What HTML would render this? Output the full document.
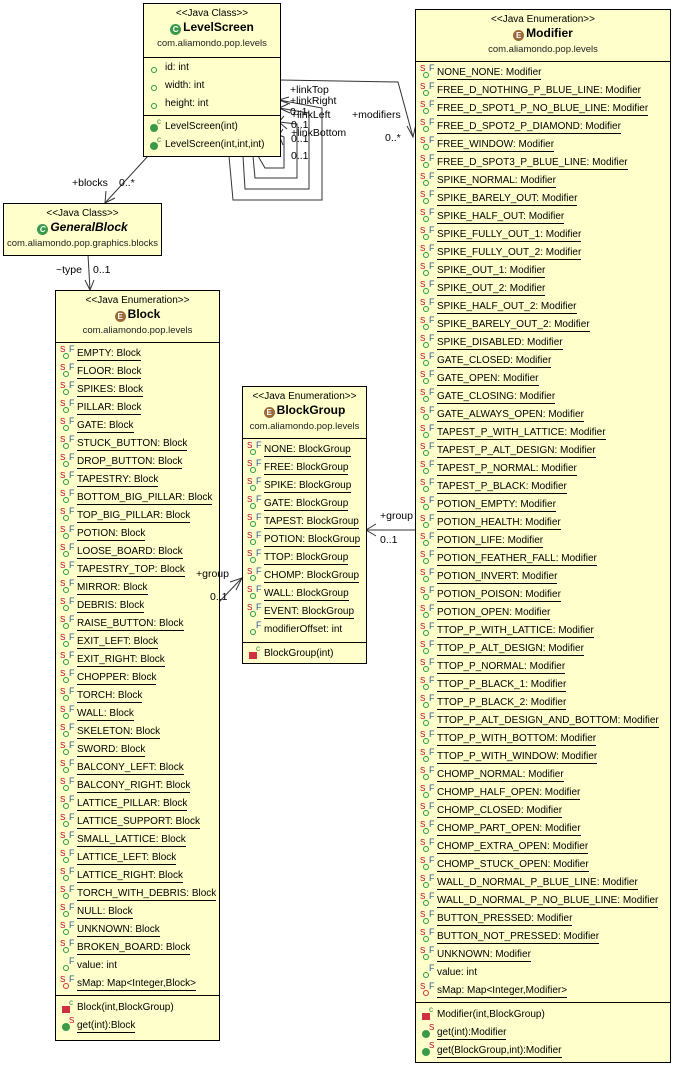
<!DOCTYPE html>
<html><head><meta charset="utf-8">
<style>
html,body{margin:0;padding:0;background:#fff;}
body{width:673px;height:1065px;position:relative;overflow:hidden;font-family:"Liberation Sans","DejaVu Sans",sans-serif;font-size:11px;color:#000;}
.box{position:absolute;background:#ffffcc;border:1px solid #000;box-sizing:border-box;}
.hd{position:absolute;left:0;right:0;top:0;border-bottom:1px solid #000;text-align:center;}
.st{position:absolute;left:0;right:0;top:4px;font-size:10px;line-height:12px;}
.nm{position:absolute;left:0;right:0;top:16px;font-size:12px;font-weight:bold;line-height:15px;}
.pk{position:absolute;left:0;right:0;top:34px;font-size:9.5px;line-height:12px;color:#222;}
.ei{display:inline-block;width:11px;height:11px;border-radius:50%;background:#9a6a3a;color:#fff;font-size:8px;line-height:11px;text-align:center;vertical-align:-1px;margin-right:2px;}
.ci{background:#3a9a4a;}
.rows{position:absolute;left:4px;right:0;}
.r{height:18px;line-height:18px;white-space:nowrap;font-size:10px;}
.ic{display:inline-block;position:relative;width:17px;height:14px;vertical-align:top;}
.ic .s{position:absolute;left:0;top:-4px;font-size:8px;color:#c00030;font-style:normal;}
.ic .f{position:absolute;left:9px;top:-5px;font-size:9px;color:#2a5a9a;font-style:normal;}
.ic .c{position:absolute;left:3px;top:8px;width:4px;height:4px;border:1.3px solid #2a9a40;border-radius:50%;}
.ic .g{position:absolute;left:2px;top:6px;width:8px;height:8px;background:#3a9a4a;border-radius:50%;}
.ic .m{position:absolute;left:2px;top:7px;width:8px;height:7px;background:#d03040;}
.ic .c2{position:absolute;left:9px;top:-5px;font-size:8px;color:#2a8a3a;font-style:normal;}
.u span{border-bottom:1px solid #000;line-height:13px;display:inline-block;}
.sep{position:absolute;left:0;right:0;border-top:1px solid #000;}
.lb{position:absolute;font-size:10.5px;line-height:12px;white-space:nowrap;z-index:5;}
svg{position:absolute;left:0;top:0;}
</style></head><body>

<svg width="673" height="1065" viewBox="0 0 673 1065">
<g fill="none" stroke="#333" stroke-width="1">
<polyline points="280,80 398,82 413,137"/>
<polyline points="407,126 413,137 416,124"/>
<polyline points="258,156 265,168 284,168 284,137 279,135"/>
<polyline points="253,156 255,178 297,178 297,124 279,122"/>
<polyline points="243,156 245,189 309,189 309,113 279,108"/>
<polyline points="229,156 233,200 322,200 322,108 279,100"/>
<polyline points="290,104 279,100 289,97"/>
<polyline points="290,113 279,108 288,104"/>
<polyline points="287,129 279,122 284,116"/>
<polyline points="283,145 279,135 283,129"/>
<polyline points="148,156 105,203"/>
<polyline points="106,191 105,203 115,198"/>
<polyline points="88,255 90,290"/>
<polyline points="85,280 90,290 94,280"/>
<polyline points="219,602 242,578"/>
<polyline points="230,582 242,578 236,590"/>
<polyline points="415,530 366,530"/>
<polyline points="376,524 366,530 376,536"/>
</g>
</svg>
<div class="lb" style="left:290px;top:84px">+linkTop</div>
<div class="lb" style="left:290px;top:95px">+linkRight</div>
<div class="lb" style="left:290px;top:106px">0..1</div>
<div class="lb" style="left:291px;top:109px">+linkLeft</div>
<div class="lb" style="left:291px;top:119px">0..1</div>
<div class="lb" style="left:291px;top:127px">+linkBottom</div>
<div class="lb" style="left:291px;top:133px">0..1</div>
<div class="lb" style="left:291px;top:150px">0..1</div>
<div class="lb" style="left:352px;top:109px">+modifiers</div>
<div class="lb" style="left:385px;top:132px">0..*</div>
<div class="lb" style="left:72px;top:177px">+blocks</div>
<div class="lb" style="left:119px;top:177px">0..*</div>
<div class="lb" style="left:56px;top:264px">~type</div>
<div class="lb" style="left:93px;top:264px">0..1</div>
<div class="lb" style="left:196px;top:568px">+group</div>
<div class="lb" style="left:210px;top:591px">0..1</div>
<div class="lb" style="left:380px;top:510px">+group</div>
<div class="lb" style="left:380px;top:534px">0..1</div>

<!-- LevelScreen -->
<div class="box" style="left:143px;top:3px;width:138px;height:154px">
 <div class="hd" style="height:53px"><div class="st">&lt;&lt;Java Class&gt;&gt;</div><div class="nm"><span class="ei ci">C</span>LevelScreen</div><div class="pk">com.aliamondo.pop.levels</div></div>
 <div class="rows" style="top:55px">
  <div class="r"><i class="ic"><i class="c"></i></i>id: int</div>
  <div class="r"><i class="ic"><i class="c"></i></i>width: int</div>
  <div class="r"><i class="ic"><i class="c"></i></i>height: int</div>
 </div>
 <div class="sep" style="top:111px"></div>
 <div class="rows" style="top:114px">
  <div class="r"><i class="ic"><i class="g"></i><i class="c2">c</i></i>LevelScreen(int)</div>
  <div class="r"><i class="ic"><i class="g"></i><i class="c2">c</i></i>LevelScreen(int,int,int)</div>
 </div>
</div>

<!-- GeneralBlock -->
<div class="box" style="left:3px;top:203px;width:159px;height:53px">
 <div class="hd" style="height:51px;border:none"><div class="st">&lt;&lt;Java Class&gt;&gt;</div><div class="nm" style="font-style:italic"><span class="ei ci">C</span>GeneralBlock</div><div class="pk">com.aliamondo.pop.graphics.blocks</div></div>
</div>

<!-- Block -->
<div class="box" style="left:55px;top:290px;width:165px;height:751px">
 <div class="hd" style="height:51px"><div class="st">&lt;&lt;Java Enumeration&gt;&gt;</div><div class="nm"><span class="ei">E</span>Block</div><div class="pk">com.aliamondo.pop.levels</div></div>
 <div class="rows" style="top:54px">
<div class="r u"><i class="ic"><i class="s">S</i><i class="c"></i><i class="f">F</i></i><span>EMPTY: Block</span></div>
<div class="r u"><i class="ic"><i class="s">S</i><i class="c"></i><i class="f">F</i></i><span>FLOOR: Block</span></div>
<div class="r u"><i class="ic"><i class="s">S</i><i class="c"></i><i class="f">F</i></i><span>SPIKES: Block</span></div>
<div class="r u"><i class="ic"><i class="s">S</i><i class="c"></i><i class="f">F</i></i><span>PILLAR: Block</span></div>
<div class="r u"><i class="ic"><i class="s">S</i><i class="c"></i><i class="f">F</i></i><span>GATE: Block</span></div>
<div class="r u"><i class="ic"><i class="s">S</i><i class="c"></i><i class="f">F</i></i><span>STUCK_BUTTON: Block</span></div>
<div class="r u"><i class="ic"><i class="s">S</i><i class="c"></i><i class="f">F</i></i><span>DROP_BUTTON: Block</span></div>
<div class="r u"><i class="ic"><i class="s">S</i><i class="c"></i><i class="f">F</i></i><span>TAPESTRY: Block</span></div>
<div class="r u"><i class="ic"><i class="s">S</i><i class="c"></i><i class="f">F</i></i><span>BOTTOM_BIG_PILLAR: Block</span></div>
<div class="r u"><i class="ic"><i class="s">S</i><i class="c"></i><i class="f">F</i></i><span>TOP_BIG_PILLAR: Block</span></div>
<div class="r u"><i class="ic"><i class="s">S</i><i class="c"></i><i class="f">F</i></i><span>POTION: Block</span></div>
<div class="r u"><i class="ic"><i class="s">S</i><i class="c"></i><i class="f">F</i></i><span>LOOSE_BOARD: Block</span></div>
<div class="r u"><i class="ic"><i class="s">S</i><i class="c"></i><i class="f">F</i></i><span>TAPESTRY_TOP: Block</span></div>
<div class="r u"><i class="ic"><i class="s">S</i><i class="c"></i><i class="f">F</i></i><span>MIRROR: Block</span></div>
<div class="r u"><i class="ic"><i class="s">S</i><i class="c"></i><i class="f">F</i></i><span>DEBRIS: Block</span></div>
<div class="r u"><i class="ic"><i class="s">S</i><i class="c"></i><i class="f">F</i></i><span>RAISE_BUTTON: Block</span></div>
<div class="r u"><i class="ic"><i class="s">S</i><i class="c"></i><i class="f">F</i></i><span>EXIT_LEFT: Block</span></div>
<div class="r u"><i class="ic"><i class="s">S</i><i class="c"></i><i class="f">F</i></i><span>EXIT_RIGHT: Block</span></div>
<div class="r u"><i class="ic"><i class="s">S</i><i class="c"></i><i class="f">F</i></i><span>CHOPPER: Block</span></div>
<div class="r u"><i class="ic"><i class="s">S</i><i class="c"></i><i class="f">F</i></i><span>TORCH: Block</span></div>
<div class="r u"><i class="ic"><i class="s">S</i><i class="c"></i><i class="f">F</i></i><span>WALL: Block</span></div>
<div class="r u"><i class="ic"><i class="s">S</i><i class="c"></i><i class="f">F</i></i><span>SKELETON: Block</span></div>
<div class="r u"><i class="ic"><i class="s">S</i><i class="c"></i><i class="f">F</i></i><span>SWORD: Block</span></div>
<div class="r u"><i class="ic"><i class="s">S</i><i class="c"></i><i class="f">F</i></i><span>BALCONY_LEFT: Block</span></div>
<div class="r u"><i class="ic"><i class="s">S</i><i class="c"></i><i class="f">F</i></i><span>BALCONY_RIGHT: Block</span></div>
<div class="r u"><i class="ic"><i class="s">S</i><i class="c"></i><i class="f">F</i></i><span>LATTICE_PILLAR: Block</span></div>
<div class="r u"><i class="ic"><i class="s">S</i><i class="c"></i><i class="f">F</i></i><span>LATTICE_SUPPORT: Block</span></div>
<div class="r u"><i class="ic"><i class="s">S</i><i class="c"></i><i class="f">F</i></i><span>SMALL_LATTICE: Block</span></div>
<div class="r u"><i class="ic"><i class="s">S</i><i class="c"></i><i class="f">F</i></i><span>LATTICE_LEFT: Block</span></div>
<div class="r u"><i class="ic"><i class="s">S</i><i class="c"></i><i class="f">F</i></i><span>LATTICE_RIGHT: Block</span></div>
<div class="r u"><i class="ic"><i class="s">S</i><i class="c"></i><i class="f">F</i></i><span>TORCH_WITH_DEBRIS: Block</span></div>
<div class="r u"><i class="ic"><i class="s">S</i><i class="c"></i><i class="f">F</i></i><span>NULL: Block</span></div>
<div class="r u"><i class="ic"><i class="s">S</i><i class="c"></i><i class="f">F</i></i><span>UNKNOWN: Block</span></div>
<div class="r u"><i class="ic"><i class="s">S</i><i class="c"></i><i class="f">F</i></i><span>BROKEN_BOARD: Block</span></div>
<div class="r"><i class="ic"><i class="c"></i><i class="f">F</i></i>value: int</div>
<div class="r u"><i class="ic"><i class="s">S</i><i class="c" style="border-color:#d03040"></i><i class="f">F</i></i><span>sMap: Map&lt;Integer,Block&gt;</span></div>
 </div>
 <div class="sep" style="top:704px"></div>
 <div class="rows" style="top:708px">
  <div class="r"><i class="ic"><i class="m"></i><i class="c2">c</i></i>Block(int,BlockGroup)</div>
  <div class="r u"><i class="ic"><i class="g"></i><i class="c2" style="color:#c00030">S</i></i><span>get(int):Block</span></div>
 </div>
</div>

<!-- BlockGroup -->
<div class="box" style="left:242px;top:386px;width:125px;height:278px">
 <div class="hd" style="height:51px"><div class="st">&lt;&lt;Java Enumeration&gt;&gt;</div><div class="nm"><span class="ei">E</span>BlockGroup</div><div class="pk">com.aliamondo.pop.levels</div></div>
 <div class="rows" style="top:54px">
<div class="r u"><i class="ic"><i class="s">S</i><i class="c"></i><i class="f">F</i></i><span>NONE: BlockGroup</span></div>
<div class="r u"><i class="ic"><i class="s">S</i><i class="c"></i><i class="f">F</i></i><span>FREE: BlockGroup</span></div>
<div class="r u"><i class="ic"><i class="s">S</i><i class="c"></i><i class="f">F</i></i><span>SPIKE: BlockGroup</span></div>
<div class="r u"><i class="ic"><i class="s">S</i><i class="c"></i><i class="f">F</i></i><span>GATE: BlockGroup</span></div>
<div class="r u"><i class="ic"><i class="s">S</i><i class="c"></i><i class="f">F</i></i><span>TAPEST: BlockGroup</span></div>
<div class="r u"><i class="ic"><i class="s">S</i><i class="c"></i><i class="f">F</i></i><span>POTION: BlockGroup</span></div>
<div class="r u"><i class="ic"><i class="s">S</i><i class="c"></i><i class="f">F</i></i><span>TTOP: BlockGroup</span></div>
<div class="r u"><i class="ic"><i class="s">S</i><i class="c"></i><i class="f">F</i></i><span>CHOMP: BlockGroup</span></div>
<div class="r u"><i class="ic"><i class="s">S</i><i class="c"></i><i class="f">F</i></i><span>WALL: BlockGroup</span></div>
<div class="r u"><i class="ic"><i class="s">S</i><i class="c"></i><i class="f">F</i></i><span>EVENT: BlockGroup</span></div>
<div class="r"><i class="ic"><i class="c"></i><i class="f">F</i></i>modifierOffset: int</div>
 </div>
 <div class="sep" style="top:255px"></div>
 <div class="rows" style="top:258px">
  <div class="r"><i class="ic"><i class="m"></i><i class="c2">c</i></i>BlockGroup(int)</div>
 </div>
</div>

<!-- Modifier -->
<div class="box" style="left:415px;top:9px;width:256px;height:1054px">
 <div class="hd" style="height:51px"><div class="st">&lt;&lt;Java Enumeration&gt;&gt;</div><div class="nm"><span class="ei">E</span>Modifier</div><div class="pk">com.aliamondo.pop.levels</div></div>
 <div class="rows" style="top:54px">
<div class="r u"><i class="ic"><i class="s">S</i><i class="c"></i><i class="f">F</i></i><span>NONE_NONE: Modifier</span></div>
<div class="r u"><i class="ic"><i class="s">S</i><i class="c"></i><i class="f">F</i></i><span>FREE_D_NOTHING_P_BLUE_LINE: Modifier</span></div>
<div class="r u"><i class="ic"><i class="s">S</i><i class="c"></i><i class="f">F</i></i><span>FREE_D_SPOT1_P_NO_BLUE_LINE: Modifier</span></div>
<div class="r u"><i class="ic"><i class="s">S</i><i class="c"></i><i class="f">F</i></i><span>FREE_D_SPOT2_P_DIAMOND: Modifier</span></div>
<div class="r u"><i class="ic"><i class="s">S</i><i class="c"></i><i class="f">F</i></i><span>FREE_WINDOW: Modifier</span></div>
<div class="r u"><i class="ic"><i class="s">S</i><i class="c"></i><i class="f">F</i></i><span>FREE_D_SPOT3_P_BLUE_LINE: Modifier</span></div>
<div class="r u"><i class="ic"><i class="s">S</i><i class="c"></i><i class="f">F</i></i><span>SPIKE_NORMAL: Modifier</span></div>
<div class="r u"><i class="ic"><i class="s">S</i><i class="c"></i><i class="f">F</i></i><span>SPIKE_BARELY_OUT: Modifier</span></div>
<div class="r u"><i class="ic"><i class="s">S</i><i class="c"></i><i class="f">F</i></i><span>SPIKE_HALF_OUT: Modifier</span></div>
<div class="r u"><i class="ic"><i class="s">S</i><i class="c"></i><i class="f">F</i></i><span>SPIKE_FULLY_OUT_1: Modifier</span></div>
<div class="r u"><i class="ic"><i class="s">S</i><i class="c"></i><i class="f">F</i></i><span>SPIKE_FULLY_OUT_2: Modifier</span></div>
<div class="r u"><i class="ic"><i class="s">S</i><i class="c"></i><i class="f">F</i></i><span>SPIKE_OUT_1: Modifier</span></div>
<div class="r u"><i class="ic"><i class="s">S</i><i class="c"></i><i class="f">F</i></i><span>SPIKE_OUT_2: Modifier</span></div>
<div class="r u"><i class="ic"><i class="s">S</i><i class="c"></i><i class="f">F</i></i><span>SPIKE_HALF_OUT_2: Modifier</span></div>
<div class="r u"><i class="ic"><i class="s">S</i><i class="c"></i><i class="f">F</i></i><span>SPIKE_BARELY_OUT_2: Modifier</span></div>
<div class="r u"><i class="ic"><i class="s">S</i><i class="c"></i><i class="f">F</i></i><span>SPIKE_DISABLED: Modifier</span></div>
<div class="r u"><i class="ic"><i class="s">S</i><i class="c"></i><i class="f">F</i></i><span>GATE_CLOSED: Modifier</span></div>
<div class="r u"><i class="ic"><i class="s">S</i><i class="c"></i><i class="f">F</i></i><span>GATE_OPEN: Modifier</span></div>
<div class="r u"><i class="ic"><i class="s">S</i><i class="c"></i><i class="f">F</i></i><span>GATE_CLOSING: Modifier</span></div>
<div class="r u"><i class="ic"><i class="s">S</i><i class="c"></i><i class="f">F</i></i><span>GATE_ALWAYS_OPEN: Modifier</span></div>
<div class="r u"><i class="ic"><i class="s">S</i><i class="c"></i><i class="f">F</i></i><span>TAPEST_P_WITH_LATTICE: Modifier</span></div>
<div class="r u"><i class="ic"><i class="s">S</i><i class="c"></i><i class="f">F</i></i><span>TAPEST_P_ALT_DESIGN: Modifier</span></div>
<div class="r u"><i class="ic"><i class="s">S</i><i class="c"></i><i class="f">F</i></i><span>TAPEST_P_NORMAL: Modifier</span></div>
<div class="r u"><i class="ic"><i class="s">S</i><i class="c"></i><i class="f">F</i></i><span>TAPEST_P_BLACK: Modifier</span></div>
<div class="r u"><i class="ic"><i class="s">S</i><i class="c"></i><i class="f">F</i></i><span>POTION_EMPTY: Modifier</span></div>
<div class="r u"><i class="ic"><i class="s">S</i><i class="c"></i><i class="f">F</i></i><span>POTION_HEALTH: Modifier</span></div>
<div class="r u"><i class="ic"><i class="s">S</i><i class="c"></i><i class="f">F</i></i><span>POTION_LIFE: Modifier</span></div>
<div class="r u"><i class="ic"><i class="s">S</i><i class="c"></i><i class="f">F</i></i><span>POTION_FEATHER_FALL: Modifier</span></div>
<div class="r u"><i class="ic"><i class="s">S</i><i class="c"></i><i class="f">F</i></i><span>POTION_INVERT: Modifier</span></div>
<div class="r u"><i class="ic"><i class="s">S</i><i class="c"></i><i class="f">F</i></i><span>POTION_POISON: Modifier</span></div>
<div class="r u"><i class="ic"><i class="s">S</i><i class="c"></i><i class="f">F</i></i><span>POTION_OPEN: Modifier</span></div>
<div class="r u"><i class="ic"><i class="s">S</i><i class="c"></i><i class="f">F</i></i><span>TTOP_P_WITH_LATTICE: Modifier</span></div>
<div class="r u"><i class="ic"><i class="s">S</i><i class="c"></i><i class="f">F</i></i><span>TTOP_P_ALT_DESIGN: Modifier</span></div>
<div class="r u"><i class="ic"><i class="s">S</i><i class="c"></i><i class="f">F</i></i><span>TTOP_P_NORMAL: Modifier</span></div>
<div class="r u"><i class="ic"><i class="s">S</i><i class="c"></i><i class="f">F</i></i><span>TTOP_P_BLACK_1: Modifier</span></div>
<div class="r u"><i class="ic"><i class="s">S</i><i class="c"></i><i class="f">F</i></i><span>TTOP_P_BLACK_2: Modifier</span></div>
<div class="r u"><i class="ic"><i class="s">S</i><i class="c"></i><i class="f">F</i></i><span>TTOP_P_ALT_DESIGN_AND_BOTTOM: Modifier</span></div>
<div class="r u"><i class="ic"><i class="s">S</i><i class="c"></i><i class="f">F</i></i><span>TTOP_P_WITH_BOTTOM: Modifier</span></div>
<div class="r u"><i class="ic"><i class="s">S</i><i class="c"></i><i class="f">F</i></i><span>TTOP_P_WITH_WINDOW: Modifier</span></div>
<div class="r u"><i class="ic"><i class="s">S</i><i class="c"></i><i class="f">F</i></i><span>CHOMP_NORMAL: Modifier</span></div>
<div class="r u"><i class="ic"><i class="s">S</i><i class="c"></i><i class="f">F</i></i><span>CHOMP_HALF_OPEN: Modifier</span></div>
<div class="r u"><i class="ic"><i class="s">S</i><i class="c"></i><i class="f">F</i></i><span>CHOMP_CLOSED: Modifier</span></div>
<div class="r u"><i class="ic"><i class="s">S</i><i class="c"></i><i class="f">F</i></i><span>CHOMP_PART_OPEN: Modifier</span></div>
<div class="r u"><i class="ic"><i class="s">S</i><i class="c"></i><i class="f">F</i></i><span>CHOMP_EXTRA_OPEN: Modifier</span></div>
<div class="r u"><i class="ic"><i class="s">S</i><i class="c"></i><i class="f">F</i></i><span>CHOMP_STUCK_OPEN: Modifier</span></div>
<div class="r u"><i class="ic"><i class="s">S</i><i class="c"></i><i class="f">F</i></i><span>WALL_D_NORMAL_P_BLUE_LINE: Modifier</span></div>
<div class="r u"><i class="ic"><i class="s">S</i><i class="c"></i><i class="f">F</i></i><span>WALL_D_NORMAL_P_NO_BLUE_LINE: Modifier</span></div>
<div class="r u"><i class="ic"><i class="s">S</i><i class="c"></i><i class="f">F</i></i><span>BUTTON_PRESSED: Modifier</span></div>
<div class="r u"><i class="ic"><i class="s">S</i><i class="c"></i><i class="f">F</i></i><span>BUTTON_NOT_PRESSED: Modifier</span></div>
<div class="r u"><i class="ic"><i class="s">S</i><i class="c"></i><i class="f">F</i></i><span>UNKNOWN: Modifier</span></div>
<div class="r"><i class="ic"><i class="c"></i><i class="f">F</i></i>value: int</div>
<div class="r u"><i class="ic"><i class="s">S</i><i class="c" style="border-color:#d03040"></i><i class="f">F</i></i><span>sMap: Map&lt;Integer,Modifier&gt;</span></div>
 </div>
 <div class="sep" style="top:992px"></div>
 <div class="rows" style="top:996px">
  <div class="r"><i class="ic"><i class="m"></i><i class="c2">c</i></i>Modifier(int,BlockGroup)</div>
  <div class="r u"><i class="ic"><i class="g"></i><i class="c2" style="color:#c00030">S</i></i><span>get(int):Modifier</span></div>
  <div class="r u"><i class="ic"><i class="g"></i><i class="c2" style="color:#c00030">S</i></i><span>get(BlockGroup,int):Modifier</span></div>
 </div>
</div>

</body></html>
